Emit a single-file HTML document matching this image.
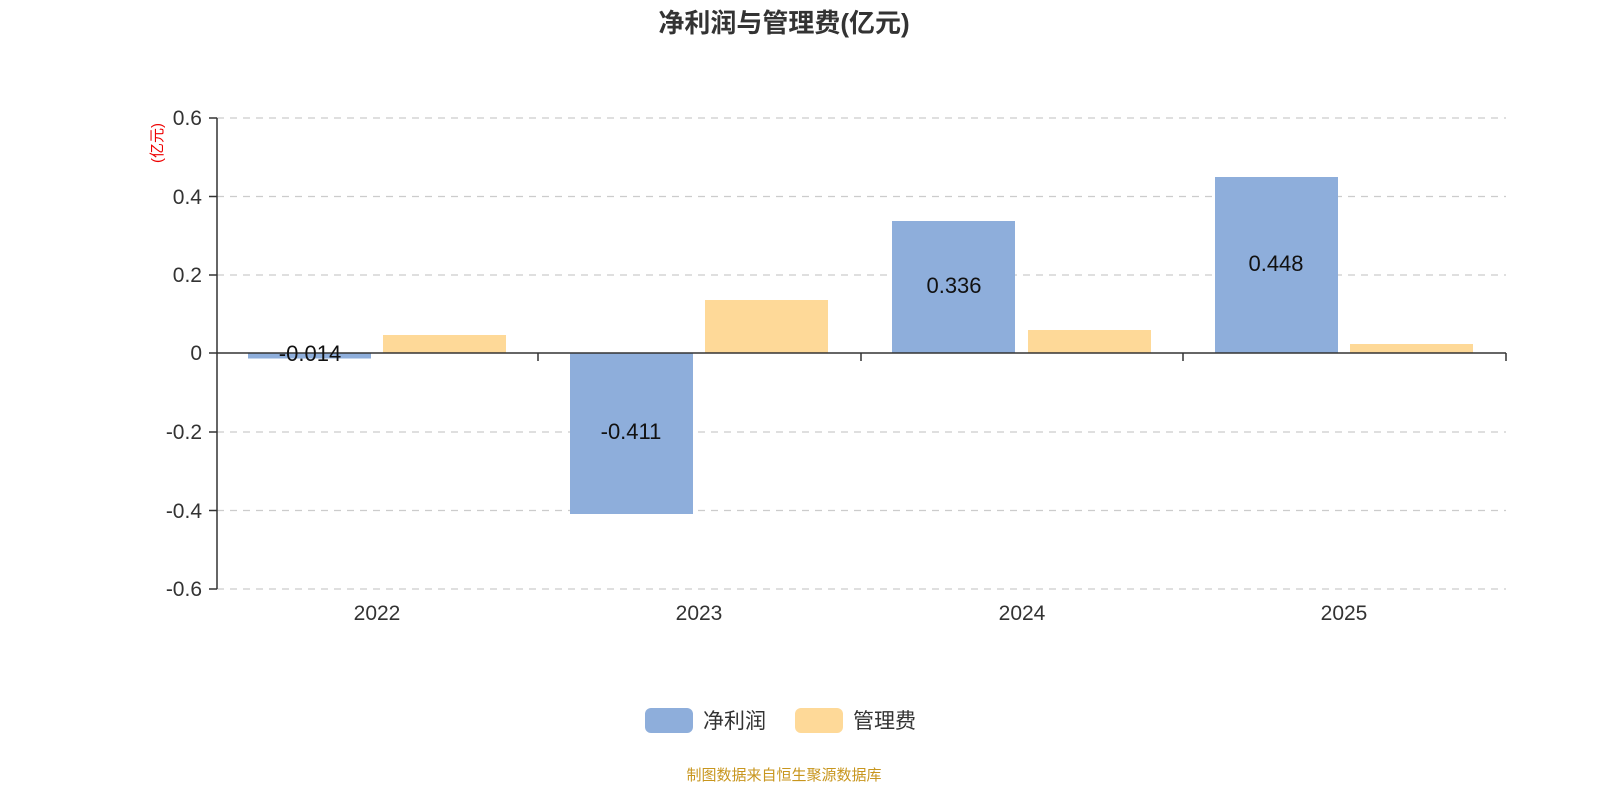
<!DOCTYPE html>
<html><head><meta charset="utf-8"><style>
body{margin:0;background:#fff;}
svg{display:block;font-family:"Liberation Sans","Noto Sans CJK SC",sans-serif;}
</style></head><body>
<svg width="1600" height="800" viewBox="0 0 1600 800" xmlns="http://www.w3.org/2000/svg">
<text x="784" y="32" text-anchor="middle" font-size="26" font-weight="bold" fill="#333">净利润与管理费(亿元)</text>
<g stroke="#ccc" stroke-width="1.3" stroke-dasharray="7,6">
<line x1="217" y1="118" x2="1506" y2="118"/>
<line x1="217" y1="196.5" x2="1506" y2="196.5"/>
<line x1="217" y1="275" x2="1506" y2="275"/>
<line x1="217" y1="432" x2="1506" y2="432"/>
<line x1="217" y1="510.5" x2="1506" y2="510.5"/>
<line x1="217" y1="589" x2="1506" y2="589"/>
</g>
<g fill="#8eaedb">
<rect x="248" y="353" width="123" height="5.5"/>
<rect x="570" y="353" width="123" height="161"/>
<rect x="892" y="221" width="123" height="132"/>
<rect x="1215" y="177" width="123" height="176"/>
</g>
<g fill="#fed998">
<rect x="383" y="335" width="123" height="18"/>
<rect x="705" y="300" width="123" height="53"/>
<rect x="1028" y="330" width="123" height="23"/>
<rect x="1350" y="344" width="123" height="9"/>
</g>
<g stroke="#333" stroke-width="1.5">
<line x1="217" y1="118" x2="217" y2="589"/>
<line x1="217" y1="353" x2="1506" y2="353"/>
<line x1="209" y1="118" x2="217" y2="118"/>
<line x1="209" y1="196.5" x2="217" y2="196.5"/>
<line x1="209" y1="275" x2="217" y2="275"/>
<line x1="209" y1="353" x2="217" y2="353"/>
<line x1="209" y1="432" x2="217" y2="432"/>
<line x1="209" y1="510.5" x2="217" y2="510.5"/>
<line x1="209" y1="589" x2="217" y2="589"/>
<line x1="538" y1="353" x2="538" y2="361"/>
<line x1="861" y1="353" x2="861" y2="361"/>
<line x1="1183" y1="353" x2="1183" y2="361"/>
<line x1="1506" y1="353" x2="1506" y2="361"/>
</g>
<g font-size="21" fill="#333" text-anchor="end">
<text x="202" y="125">0.6</text>
<text x="202" y="204">0.4</text>
<text x="202" y="282">0.2</text>
<text x="202" y="360">0</text>
<text x="202" y="439">-0.2</text>
<text x="202" y="518">-0.4</text>
<text x="202" y="596">-0.6</text>
</g>
<g font-size="21" fill="#333" text-anchor="middle">
<text x="377" y="620">2022</text>
<text x="699" y="620">2023</text>
<text x="1022" y="620">2024</text>
<text x="1344" y="620">2025</text>
</g>
<g font-size="22" fill="#111" text-anchor="middle">
<text x="310" y="361">-0.014</text>
<text x="631" y="439">-0.411</text>
<text x="954" y="293">0.336</text>
<text x="1276" y="271">0.448</text>
</g>
<text transform="translate(162,143) rotate(-90)" font-size="15" fill="#e00" text-anchor="middle">(亿元)</text>
<rect x="645" y="708" width="48" height="25" rx="6" fill="#8eaedb"/>
<text x="703" y="728" font-size="21" fill="#333">净利润</text>
<rect x="795" y="708" width="48" height="25" rx="6" fill="#fed998"/>
<text x="853" y="728" font-size="21" fill="#333">管理费</text>
<text x="784" y="780" text-anchor="middle" font-size="15" fill="#c8961e">制图数据来自恒生聚源数据库</text>
</svg>
</body></html>
